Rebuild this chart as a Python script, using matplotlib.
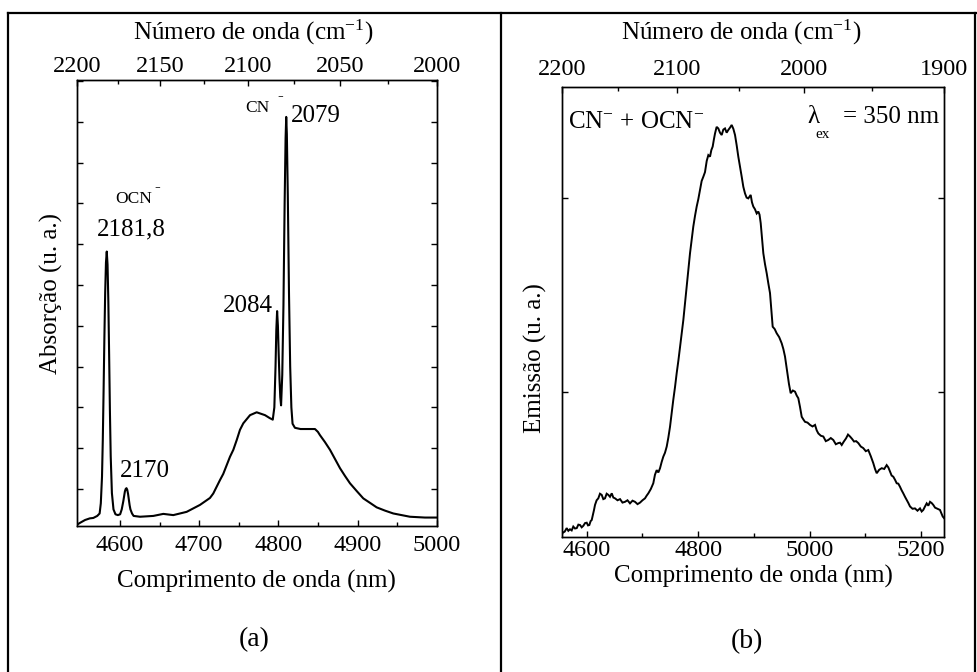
import matplotlib
matplotlib.use("Agg")
import matplotlib.pyplot as plt
from matplotlib.lines import Line2D
from matplotlib.ticker import FixedLocator, FixedFormatter, NullFormatter
import numpy as np

plt.rcParams["font.family"] = ["Liberation Serif", "DejaVu Serif"]
plt.rcParams["mathtext.fontset"] = "custom"
plt.rcParams["mathtext.rm"] = "Liberation Serif"
plt.rcParams["mathtext.it"] = "Liberation Serif:italic"
plt.rcParams["mathtext.bf"] = "Liberation Serif:bold"

# ---------------- data ----------------
# (a) IR absorption spectrum: wavelength (nm) and absorbance (a.u.)
abs_wl = [4545.5, 4549.6, 4556.0, 4562.0, 4566.4, 4571.4, 4574.4, 4575.9, 4577.4,
          4578.4, 4579.4, 4580.4, 4581.4, 4582.4, 4583.4, 4584.4, 4585.4, 4586.4,
          4587.4, 4588.4, 4589.9, 4591.9, 4594.4, 4597.4, 4600.3, 4602.3, 4604.3,
          4605.3, 4606.3, 4607.3, 4608.3, 4609.3, 4610.3, 4611.3, 4612.3, 4613.3,
          4615.3, 4617.3, 4625.4, 4634.0, 4642.2, 4654.8, 4667.4, 4684.3, 4701.1,
          4713.7, 4717.9, 4726.4, 4730.5, 4739.0, 4743.2, 4747.5, 4751.6, 4755.8,
          4764.3, 4772.7, 4783.2, 4789.0, 4793.0, 4795.0, 4796.5, 4797.5, 4798.5,
          4799.5, 4800.5, 4801.5, 4802.5, 4803.5, 4805.0, 4806.5, 4808.0, 4809.2,
          4810.0, 4810.8, 4812.0, 4813.5, 4815.0, 4816.5, 4818.0, 4821.0, 4828.0,
          4835.9, 4846.3, 4850.0, 4852.6, 4858.9, 4865.3, 4877.9, 4884.2, 4890.5,
          4899.0, 4907.3, 4915.8, 4924.2, 4934.7, 4945.2, 4966.2, 4985.2, 5000.0]
abs_val = [-0.088, -0.083, -0.076, -0.072, -0.071, -0.066, -0.060, -0.035, 0.030,
           0.120, 0.240, 0.370, 0.480, 0.555, 0.582, 0.550, 0.460, 0.330,
           0.190, 0.080, -0.010, -0.050, -0.062, -0.064, -0.062, -0.050, -0.030,
           -0.018, -0.006, 0.000, 0.002, -0.002, -0.012, -0.026, -0.040, -0.050,
           -0.060, -0.066, -0.068, -0.067, -0.066, -0.061, -0.064, -0.056, -0.039,
           -0.022, -0.011, 0.022, 0.037, 0.079, 0.096, 0.120, 0.145, 0.161,
           0.181, 0.188, 0.181, 0.174, 0.170, 0.200, 0.300, 0.390, 0.436,
           0.400, 0.330, 0.270, 0.225, 0.205, 0.280, 0.450, 0.700, 0.860,
           0.912, 0.870, 0.720, 0.480, 0.300, 0.200, 0.160, 0.150, 0.147,
           0.147, 0.147, 0.140, 0.132, 0.115, 0.096, 0.051, 0.032, 0.014,
           -0.005, -0.023, -0.034, -0.045, -0.053, -0.060, -0.068, -0.070, -0.070]

# (b) emission spectrum, lambda_ex = 350 nm
em_wl = [4555.1, 4556.9, 4560.5, 4564.1, 4567.0, 4570.0, 4573.0, 4575.9, 4579.0,
         4582.1, 4585.0, 4588.0, 4591.0, 4593.9, 4597.0, 4600.0, 4602.3, 4604.7,
         4607.0, 4609.0, 4613.1, 4614.9, 4617.8, 4620.8, 4623.8, 4626.9, 4629.8,
         4632.8, 4635.8, 4638.8, 4641.8, 4644.9, 4647.8, 4650.8, 4655.3, 4659.8,
         4664.2, 4668.7, 4673.2, 4677.7, 4682.2, 4686.7, 4691.2, 4695.7, 4700.1,
         4704.6, 4707.6, 4710.6, 4715.0, 4719.5, 4722.5, 4725.6, 4728.6, 4731.6,
         4734.5, 4737.5, 4740.5, 4743.6, 4746.5, 4749.5, 4752.5, 4755.4, 4758.5,
         4761.5, 4764.5, 4767.5, 4770.5, 4773.4, 4776.5, 4779.5, 4782.5, 4785.4,
         4788.3, 4791.3, 4794.4, 4797.4, 4800.3, 4803.3, 4806.3, 4809.3, 4812.3,
         4815.4, 4818.3, 4821.3, 4823.7, 4826.1, 4828.2, 4830.3, 4833.2, 4836.2,
         4839.2, 4842.3, 4845.2, 4848.2, 4851.2, 4854.1, 4857.2, 4860.2, 4863.2,
         4866.2, 4869.1, 4872.1, 4875.1, 4878.2, 4881.1, 4884.1, 4887.0, 4890.0,
         4894.3, 4896.6, 4899.0, 4902.0, 4905.1, 4908.0, 4910.2, 4912.3, 4914.7,
         4917.0, 4920.0, 4923.1, 4926.0, 4929.0, 4931.4, 4933.8, 4937.4, 4941.0,
         4945.5, 4950.0, 4953.0, 4955.9, 4958.0, 4960.0, 4963.0, 4966.1, 4970.0,
         4973.9, 4976.9, 4979.8, 4982.9, 4985.9, 4988.9, 4991.8, 4996.3, 5000.8,
         5005.3, 5009.8, 5012.8, 5015.7, 5020.2, 5024.7, 5029.1, 5033.6, 5038.1,
         5042.6, 5047.1, 5051.6, 5054.7, 5057.7, 5061.5, 5065.4, 5069.0, 5072.6,
         5076.2, 5079.8, 5083.6, 5087.5, 5092.0, 5096.4, 5100.9, 5105.4, 5109.9,
         5114.4, 5117.5, 5120.5, 5125.0, 5129.5, 5134.0, 5138.4, 5141.4, 5144.4,
         5147.3, 5150.3, 5153.4, 5156.4, 5159.3, 5162.3, 5165.2, 5168.2, 5171.3,
         5174.3, 5177.3, 5180.3, 5184.8, 5189.2, 5193.7, 5198.2, 5201.2, 5204.1,
         5207.2, 5210.2, 5213.2, 5216.2, 5219.1, 5222.1, 5225.2, 5228.2, 5231.1,
         5234.1, 5236.5, 5239.0, 5241.3]
em_val = [0.129, 0.135, 0.138, 0.147, 0.140, 0.144, 0.141, 0.151, 0.146,
          0.147, 0.156, 0.155, 0.149, 0.153, 0.160, 0.161, 0.154, 0.155,
          0.165, 0.168, 0.194, 0.207, 0.219, 0.224, 0.236, 0.233, 0.222,
          0.224, 0.236, 0.233, 0.228, 0.237, 0.226, 0.224, 0.219, 0.222,
          0.213, 0.215, 0.219, 0.211, 0.218, 0.215, 0.209, 0.213, 0.219,
          0.224, 0.231, 0.237, 0.248, 0.263, 0.285, 0.297, 0.291, 0.302,
          0.318, 0.332, 0.342, 0.358, 0.381, 0.409, 0.445, 0.479, 0.512,
          0.548, 0.580, 0.616, 0.652, 0.685, 0.730, 0.772, 0.818, 0.858,
          0.893, 0.927, 0.955, 0.979, 0.998, 1.022, 1.045, 1.056, 1.068,
          1.097, 1.112, 1.108, 1.125, 1.134, 1.152, 1.168, 1.185, 1.181,
          1.170, 1.164, 1.178, 1.181, 1.170, 1.177, 1.183, 1.190, 1.180,
          1.164, 1.138, 1.108, 1.083, 1.056, 1.030, 1.013, 1.002, 1.000,
          1.009, 0.990, 0.979, 0.972, 0.961, 0.966, 0.958, 0.936, 0.895,
          0.858, 0.830, 0.806, 0.780, 0.755, 0.712, 0.668, 0.662, 0.651,
          0.641, 0.625, 0.610, 0.591, 0.570, 0.548, 0.520, 0.496, 0.503,
          0.500, 0.490, 0.483, 0.460, 0.435, 0.428, 0.422, 0.420, 0.414,
          0.410, 0.414, 0.400, 0.392, 0.386, 0.384, 0.372, 0.375, 0.380,
          0.375, 0.364, 0.367, 0.368, 0.362, 0.371, 0.379, 0.389, 0.384,
          0.378, 0.371, 0.372, 0.367, 0.358, 0.354, 0.346, 0.349, 0.333,
          0.315, 0.300, 0.289, 0.298, 0.302, 0.300, 0.310, 0.304, 0.293,
          0.283, 0.280, 0.272, 0.263, 0.262, 0.254, 0.245, 0.237, 0.228,
          0.220, 0.212, 0.203, 0.197, 0.198, 0.192, 0.198, 0.190, 0.194,
          0.203, 0.211, 0.205, 0.215, 0.212, 0.207, 0.200, 0.198, 0.196,
          0.194, 0.186, 0.177, 0.173]

# tick values
a_major_nm = [4600, 4700, 4800, 4900, 5000]
a_minor_nm = [4650, 4750, 4850, 4950]
a_top_major_cm = [2200, 2150, 2100, 2050, 2000]
a_top_minor_cm = [2175, 2125, 2075, 2025]
b_major_nm = [4600, 4800, 5000, 5200]
b_minor_nm = [4700, 4900, 5100]
b_top_major_cm = [2200, 2100, 2000, 1900]
b_top_minor_cm = [2150, 2050, 1950]

# peak annotations (wavenumbers in cm^-1)
peak_labels = ["2181,8", "2170", "2084", "2079"]

# ---------------- figure ----------------
W, H = 978, 672
fig = plt.figure(figsize=(W / 100, H / 100), dpi=100)


def fx(x):
    return x / W


def fy(y):
    return 1 - y / H


def box(x0, y0, x1, y1):
    return [fx(x0), fy(y1), (x1 - x0) / W, (y1 - y0) / H]


TICK_FS = 17.5
LAB_FS = 18
LW_AX = 1.0


def style_axes(ax, pad):
    for s in ax.spines.values():
        s.set_linewidth(LW_AX)
    ax.tick_params(which="both", direction="in", width=LW_AX, labelsize=TICK_FS,
                   pad=pad, right=True, top=False)
    ax.tick_params(which="major", length=4.5)
    ax.tick_params(which="minor", length=2.6)
    ax.yaxis.set_major_formatter(NullFormatter())


def top_axis(ax, lims, major_cm, minor_cm, pad):
    t = ax.twiny()
    t.set_xlim(*lims)
    t.xaxis.set_major_locator(FixedLocator([1e7 / c for c in major_cm]))
    t.xaxis.set_major_formatter(FixedFormatter([str(c) for c in major_cm]))
    t.xaxis.set_minor_locator(FixedLocator([1e7 / c for c in minor_cm]))
    for s in t.spines.values():
        s.set_linewidth(LW_AX)
    t.tick_params(which="both", direction="in", width=LW_AX, labelsize=TICK_FS, pad=pad)
    t.tick_params(which="major", length=4.5)
    t.tick_params(which="minor", length=2.6)
    return t


# ---- panel (a): absorption ----
axA = fig.add_axes(box(76.7, 80, 436.7, 526))
axA.plot(abs_wl, abs_val, color="black", lw=1.5, solid_joinstyle="round")
axA.set_xlim(1e7 / 2200, 5000)
axA.set_ylim(-0.0907, 1.0025)
axA.xaxis.set_major_locator(FixedLocator(a_major_nm))
axA.xaxis.set_minor_locator(FixedLocator(a_minor_nm))
axA.yaxis.set_major_locator(FixedLocator(np.round(np.arange(0, 1.01, 0.1), 2)))
style_axes(axA, pad=6.3)
top_axis(axA, (1e7 / 2200, 5000), a_top_major_cm, a_top_minor_cm, pad=2.0)

# ---- panel (b): emission ----
axB = fig.add_axes(box(561.7, 86.5, 944, 537))
axB.plot(em_wl, em_val, color="black", lw=1.4, solid_joinstyle="miter")
axB.set_xlim(4555.1, 5241.3)
axB.set_ylim(0.124, 1.2895)
axB.xaxis.set_major_locator(FixedLocator(b_major_nm))
axB.xaxis.set_minor_locator(FixedLocator(b_minor_nm))
axB.yaxis.set_major_locator(FixedLocator([0.5, 1.0]))
style_axes(axB, pad=2.4)
top_axis(axB, (1e7 / 2200, 1e7 / 1900), b_top_major_cm, b_top_minor_cm, pad=4.7)


def ftext(x, y, s, **kw):
    kw.setdefault("fontsize", LAB_FS)
    return fig.text(fx(x), fy(y), s, **kw)


# axis titles
ftext(253, 40, r"Número de onda (cm$^{-1}$)", ha="center", va="baseline")
ftext(741.7, 40, r"Número de onda (cm$^{-1}$)", ha="center", va="baseline")
ftext(256.7, 588, "Comprimento de onda (nm)", ha="center", va="baseline")
ftext(753, 583, "Comprimento de onda (nm)", ha="center", va="baseline")
ftext(51, 293, "Absorção (u. a.)", rotation=90, ha="center", va="center")
ftext(535, 358, "Emissão (u. a.)", rotation=90, ha="center", va="center")
ftext(254, 640, "(a)", ha="center", va="center", fontsize=20)
ftext(746.7, 642, "(b)", ha="center", va="center", fontsize=20)

# peak labels, panel (a)
ftext(131.7, 235, peak_labels[0], ha="center", va="baseline")
ftext(145, 476.7, peak_labels[1], ha="center", va="baseline")
ftext(248, 311.7, peak_labels[2], ha="center", va="baseline")
ftext(291, 122, peak_labels[3], ha="left", va="baseline")
ftext(115, 203, "OCN", ha="left", va="baseline", fontsize=12.5)
ftext(157, 191, "-", ha="center", va="baseline", fontsize=12.5)
ftext(245, 111.7, "CN", ha="left", va="baseline", fontsize=12.5)
ftext(280, 100.3, "-", ha="center", va="baseline", fontsize=12.5)

# species / excitation labels, panel (b)
ftext(568.3, 128.3, r"CN$^{-}$ + OCN$^{-}$", ha="left", va="baseline")
ftext(807.5, 123, "λ", ha="left", va="baseline")
ftext(815, 138.3, "ex", ha="left", va="baseline", fontsize=11)
ftext(939.3, 123, "= 350 nm", ha="right", va="baseline")

# surrounding table frame
frame = [((8.3, 8.3), (13.3, 672)),
         ((8.3, 978), (13.3, 13.3)),
         ((500.7, 500.7), (13.3, 672)),
         ((975.5, 975.5), (13.3, 672))]
for xs, ys in frame:
    fig.add_artist(Line2D([fx(x) for x in xs], [fy(y) for y in ys],
                          transform=fig.transFigure, color="black", lw=1.6))

fig.savefig("out.png", dpi=100)
